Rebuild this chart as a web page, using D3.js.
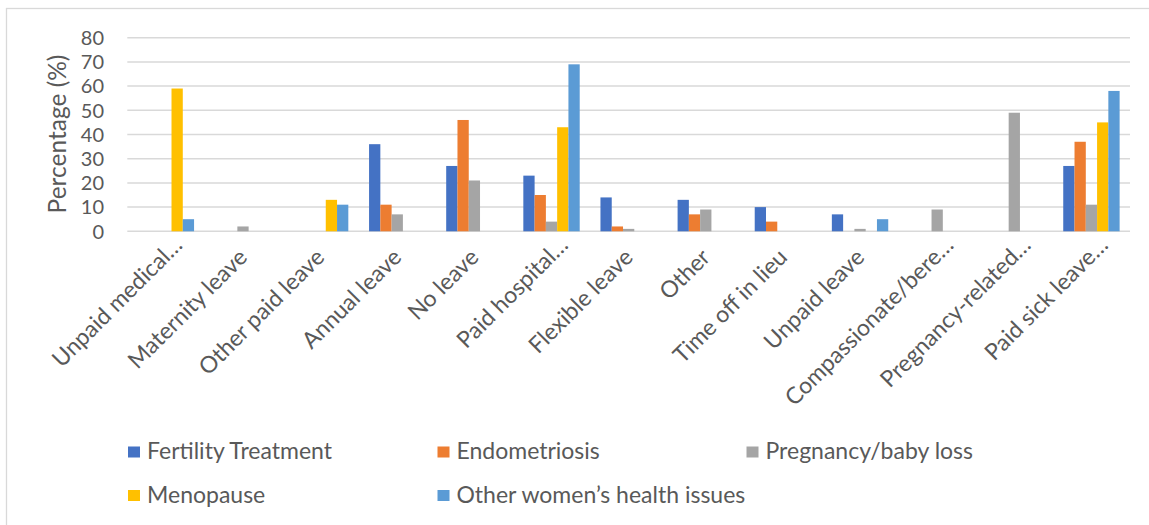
<!DOCTYPE html>
<html>
<head>
<meta charset="utf-8">
<script src="https://cdn.jsdelivr.net/npm/d3@7"></script>
<style>
  body { margin: 0; background: #fff; }
  svg text { font-family: Lato, "Open Sans", sans-serif; fill: #595959; }
</style>
</head>
<body>
<svg id="chart" width="1149" height="525"></svg>
<script>
// Types of leave taken, by women's health condition (%)
const categories = [
  "Unpaid medical\u2026", "Maternity leave", "Other paid leave", "Annual leave",
  "No leave", "Paid hospital\u2026", "Flexible leave", "Other",
  "Time off in lieu", "Unpaid leave", "Compassionate/bere\u2026",
  "Pregnancy-related\u2026", "Paid sick leave\u2026"
];
const seriesNames = [
  "Fertility Treatment", "Endometriosis", "Pregnancy/baby loss",
  "Menopause", "Other women\u2019s health issues"
];
const fertilityTreatment = [null, null, null, 36, 27, 23, 14, 13, 10, 7, null, null, 27];
const endometriosis      = [null, null, null, 11, 46, 15, 2, 7, 4, null, null, null, 37];
const pregnancyLoss      = [null, 2, null, 7, 21, 4, 1, 9, null, 1, 9, 49, 11];
const menopause          = [59, null, 13, null, null, 43, null, null, null, null, null, null, 45];
const otherHealth        = [5, null, 11, null, null, 69, null, null, null, 5, null, null, 58];
const yTicks = [0, 10, 20, 30, 40, 50, 60, 70, 80];
const colors = ["#4472C4", "#ED7D31", "#A5A5A5", "#FFC000", "#5B9BD5"];

const seriesValues = [fertilityTreatment, endometriosis, pregnancyLoss, menopause, otherHealth];
const series = seriesNames.map((name, i) => ({ name, color: colors[i], values: seriesValues[i] }));

const FONT = 23;
const TICK_FONT = 20;
const svg = d3.select("#chart");

// chart frame
svg.append("rect")
  .attr("x", 6.5).attr("y", 8.5)
  .attr("width", 1160).attr("height", 540)
  .attr("fill", "none").attr("stroke", "#d9d9d9").attr("stroke-width", 1.3);

const x0 = d3.scaleBand().domain(categories).range([127.3, 1130]).paddingInner(0).paddingOuter(0);
const groupPad = (1 - 0.731) / 2;
const x1 = d3.scaleBand().domain(seriesNames)
  .range([x0.bandwidth() * groupPad, x0.bandwidth() * (1 - groupPad)]).padding(0);
const y = d3.scaleLinear().domain([0, 80]).range([231.3, 37.7]);

// gridlines
svg.append("g")
  .selectAll("line").data(yTicks).join("line")
  .attr("x1", 127.3).attr("x2", 1130)
  .attr("y1", d => y(d)).attr("y2", d => y(d))
  .attr("stroke", "#d9d9d9").attr("stroke-width", 1.5);

// y tick labels
svg.append("g")
  .selectAll("text").data(yTicks).join("text")
  .attr("x", 104).attr("y", d => y(d))
  .attr("dy", "0.36em")
  .attr("text-anchor", "end")
  .style("font-size", TICK_FONT + "px")
  .text(d => d);

// y axis title
svg.append("text")
  .attr("transform", "translate(66,134) rotate(-90)")
  .attr("text-anchor", "middle")
  .style("font-size", "24.5px")
  .text("Percentage (%)");

// bars
const groups = svg.append("g").selectAll("g").data(categories).join("g")
  .attr("transform", d => `translate(${x0(d)},0)`);
groups.selectAll("rect")
  .data((c, ci) => series.filter(s => s.values[ci] != null).map(s => ({ s, v: s.values[ci] })))
  .join("rect")
  .attr("x", d => x1(d.s.name))
  .attr("width", x1.bandwidth())
  .attr("y", d => y(d.v))
  .attr("height", d => y(0) - y(d.v))
  .attr("fill", d => d.s.color);

// category labels, rotated; a trailing ellipsis hangs past the tick
const catG = svg.append("g");
catG.selectAll("text").data(categories).join("text")
  .attr("transform", d => `translate(${x0(d) + x0.bandwidth() / 2},253) rotate(-45)`)
  .attr("text-anchor", "end")
  .attr("dy", "0.35em")
  .style("font-size", FONT + "px")
  .text(d => d)
  .each(function (d) {
    if (d.endsWith("\u2026")) {
      const probe = catG.append("text").style("font-size", FONT + "px").text("\u2026");
      const w = probe.node().getComputedTextLength();
      probe.remove();
      d3.select(this).attr("x", w);
    }
  });

// legend
const legendPos = [
  { x: 128, y: 459 }, { x: 437.5, y: 459 }, { x: 746.5, y: 459 },
  { x: 128, y: 502.5 }, { x: 437.5, y: 502.5 }
];
const legend = svg.append("g").selectAll("g").data(series).join("g")
  .attr("transform", (d, i) => `translate(${legendPos[i].x},${legendPos[i].y})`);
legend.append("rect")
  .attr("x", 0).attr("y", -12.5).attr("width", 12).attr("height", 11)
  .attr("fill", d => d.color);
legend.append("text")
  .attr("x", 19).attr("y", 0)
  .style("font-size", FONT + "px")
  .text(d => d.name);
</script>
</body>
</html>
